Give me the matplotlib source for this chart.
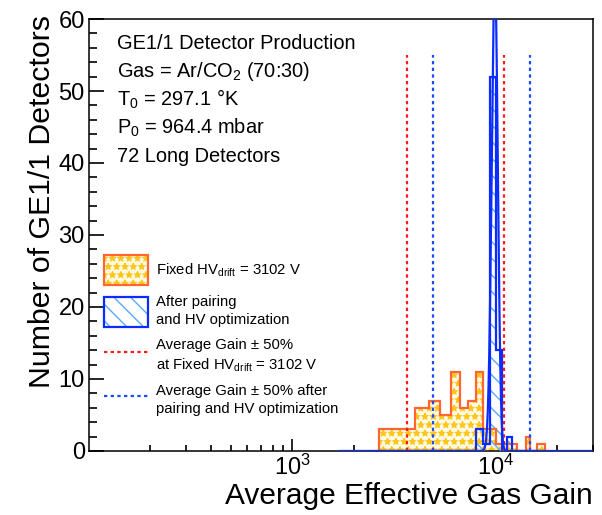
import matplotlib
matplotlib.use("Agg")
import matplotlib.pyplot as plt
import numpy as np
from matplotlib.patches import Patch
from matplotlib.lines import Line2D
from matplotlib.ticker import FixedLocator, MultipleLocator, LogLocator, NullFormatter

plt.rcParams['font.family'] = ['Liberation Sans', 'DejaVu Sans']
plt.rcParams['mathtext.fontset'] = 'custom'
plt.rcParams['mathtext.rm'] = 'Liberation Sans'
plt.rcParams['mathtext.it'] = 'Liberation Sans:italic'
plt.rcParams['hatch.linewidth'] = 1.0

# histogram binning (linear bins of ~667 in gain)
bin_lo = 2666.7
bin_width = 666.7
# detectors per bin, fixed HV_drift = 3102 V
fixed_hv_counts = [3, 3, 6, 7, 5, 11, 6, 7, 11, 3, 3, 1, 1, 1, 1, 0, 0, 2, 0, 0, 1, 1]
# detectors per bin, after pairing and HV optimization
optimized_counts = [0, 0, 0, 0, 0, 0, 0, 0, 3, 1, 52, 14, 0, 2, 0, 0, 0, 0, 0, 0, 0, 0]
edges = bin_lo + bin_width * np.arange(len(fixed_hv_counts) + 1)

avg_gain_fixed = 7300
avg_gain_opt = 9850
line_top = 55

# gaussian fit of the optimized distribution
fit_amp, fit_mean, fit_sigma = 66, 9880, 340

orange = '#ff6633'
gold = '#ffc61a'
blue = '#0a2cff'
light_blue = '#5aa8ff'

fig = plt.figure(figsize=(6.02, 5.15), dpi=100)
ax = fig.add_axes([0.1478, 0.1243, 0.8372, 0.8388])

# orange histogram: star hatch + outline
ax.stairs(fixed_hv_counts, edges, fill=True, facecolor='#fffbe6', edgecolor=gold,
          hatch='**', linewidth=0, zorder=2)
# blue histogram hatch
ax.stairs(optimized_counts, edges, fill=True, facecolor='none', edgecolor=light_blue,
          hatch='\\\\', linewidth=0, zorder=3)
ax.stairs(fixed_hv_counts, edges, color=orange, linewidth=1.6, zorder=4)
ax.stairs(optimized_counts, edges, color=blue, linewidth=1.6, zorder=5)

# average gain +- 50% lines
ax.vlines([0.5 * avg_gain_fixed, 1.5 * avg_gain_fixed], 0, line_top, colors='#ff1a1a',
          linestyles=(0, (1.5, 1.5)), linewidth=1.6, zorder=6)
ax.vlines([0.5 * avg_gain_opt, 1.5 * avg_gain_opt], 0, line_top, colors='#1a4cff',
          linestyles=(0, (1.5, 1.5)), linewidth=1.6, zorder=6)

xf = np.geomspace(1700, 30000, 4000)
ax.plot(xf, fit_amp * np.exp(-0.5 * ((xf - fit_mean) / fit_sigma) ** 2), color=blue,
        linewidth=1.6, zorder=7)

ax.set_xscale('log')
ax.set_xlim(100, 30000)
ax.set_ylim(0, 60)
ax.xaxis.set_major_locator(FixedLocator([1e3, 1e4]))
ax.xaxis.set_minor_locator(LogLocator(subs=np.arange(2, 10), numticks=20))
ax.xaxis.set_minor_formatter(NullFormatter())
ax.yaxis.set_major_locator(MultipleLocator(10))
ax.yaxis.set_minor_locator(MultipleLocator(2))

ax.tick_params(which='both', direction='in', top=False, right=False, width=1.2, labelsize=17)
ax.tick_params(axis='y', which='major', length=10.8, pad=3)
ax.tick_params(axis='y', which='minor', length=5.4)
ax.tick_params(axis='x', which='major', length=9, pad=3)
ax.tick_params(axis='x', which='minor', length=4.5)
for s in ax.spines.values():
    s.set_linewidth(1.1)

ax.set_xlabel('Average Effective Gas Gain', fontsize=21.5, loc='right')
ax.xaxis.set_label_coords(1.0, -0.0718)
ax.set_ylabel('Number of GE1/1 Detectors', fontsize=21.8, loc='top')
ax.yaxis.set_label_coords(-0.0645, 1.01)

info = ['GE1/1 Detector Production',
        'Gas = Ar/CO$_{2}$ (70:30)',
        'T$_{0}$ = 297.1 °K',
        'P$_{0}$ = 964.4 mbar',
        '72 Long Detectors']
for i, line in enumerate(info):
    ax.text(0.055, 0.944 - i * 0.0655, line, transform=ax.transAxes, fontsize=14.4,
            va='center', ha='left')

handles = [
    (Patch(facecolor='#fffbe6', edgecolor=gold, hatch='**', linewidth=0),
     Patch(facecolor='none', edgecolor=orange, linewidth=1.6)),
    (Patch(facecolor='white', edgecolor=light_blue, hatch='\\\\', linewidth=0),
     Patch(facecolor='none', edgecolor=blue, linewidth=1.6)),
    Line2D([], [], color='#ff1a1a', linestyle=(0, (1.5, 1.5)), linewidth=1.6),
    Line2D([], [], color='#1a4cff', linestyle=(0, (1.5, 1.5)), linewidth=1.6),
]
labels = ['Fixed HV$_{\\mathrm{drift}}$ = 3102 V',
          'After pairing\nand HV optimization',
          'Average Gain ± 50%\nat Fixed HV$_{\\mathrm{drift}}$ = 3102 V',
          'Average Gain ± 50% after\npairing and HV optimization']
leg = ax.legend(handles, labels, loc='upper left', bbox_to_anchor=(0.0298, 0.4537),
                frameon=False, fontsize=10.7, handlelength=2.95, handleheight=2.73,
                handletextpad=0.58, labelspacing=0.7, borderpad=0, borderaxespad=0)
for t in leg.get_texts():
    t.set_linespacing(1.35)

fig.savefig('out.png', dpi=100)
